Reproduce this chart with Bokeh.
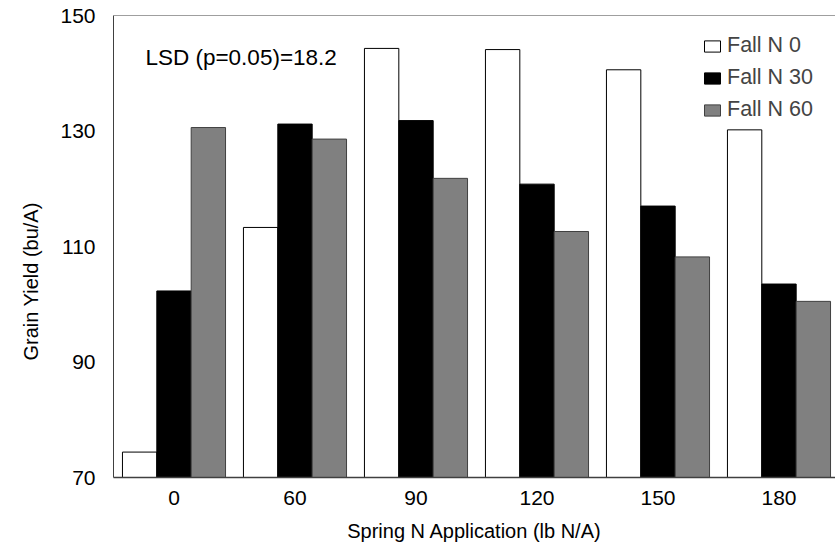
from bokeh.plotting import figure
from bokeh.models import (Range1d, FixedTicker, Span, Label, Legend, LegendItem,
                          ColumnDataSource, Title)
from bokeh.transform import dodge
from bokeh.embed import file_html
from bokeh.resources import INLINE

# ---- data ----
spring_n = ["0", "60", "90", "120", "150", "180"]
fall_n0 = [74.4, 113.3, 144.3, 144.1, 140.6, 130.2]
fall_n30 = [102.3, 131.2, 131.8, 120.8, 117.0, 103.5]
fall_n60 = [130.6, 128.6, 121.8, 112.6, 108.2, 100.5]
series_names = ["Fall N 0", "Fall N 30", "Fall N 60"]
y_ticks = [70, 90, 110, 130, 150]

FONT = "Liberation Sans"
idx = list(range(len(spring_n)))
src = ColumnDataSource(dict(idx=idx, n0=fall_n0, n30=fall_n30, n60=fall_n60))

p = figure(width=835, height=552, output_backend="svg", toolbar_location=None,
           x_range=Range1d(-0.5, 5.467), y_range=Range1d(y_ticks[0], y_ticks[-1]),
           min_border_left=113, min_border_top=15, min_border_right=0,
           min_border_bottom=75)
p.outline_line_color = None
p.xgrid.visible = False
p.ygrid.visible = False
p.background_fill_color = "white"
p.border_fill_color = "white"

bw = 0.284
r0 = p.vbar(x=dodge("idx", -bw, range=p.x_range), top="n0", bottom=y_ticks[0], width=bw,
            source=src, fill_color="white", line_color="#000000", line_width=1)
r1 = p.vbar(x=dodge("idx", 0, range=p.x_range), top="n30", bottom=y_ticks[0], width=bw,
            source=src, fill_color="#000000", line_color="#000000", line_width=1)
r2 = p.vbar(x=dodge("idx", bw, range=p.x_range), top="n60", bottom=y_ticks[0], width=bw,
            source=src, fill_color="#808080", line_color="#404040", line_width=1)

# top border line
p.add_layout(Span(location=y_ticks[-1], dimension="width", line_color="#404040", line_width=1))

# axes
for ax in (p.xaxis[0], p.yaxis[0]):
    ax.major_tick_line_color = None
    ax.minor_tick_line_color = None
    ax.major_tick_out = 0
    ax.major_tick_in = 0
    ax.minor_tick_out = 0
    ax.minor_tick_in = 0
    ax.major_label_text_font = FONT
    ax.major_label_text_font_size = "21px"
    ax.major_label_text_color = "black"
    ax.axis_label_text_font = FONT
    ax.axis_label_text_font_size = "20px"
    ax.axis_label_text_font_style = "normal"
    ax.axis_label_text_color = "black"

p.xaxis.ticker = FixedTicker(ticks=idx)
p.xaxis.major_label_overrides = {i: s for i, s in zip(idx, spring_n)}
p.xaxis.axis_label = "Spring N Application (lb N/A)"
p.xaxis.axis_line_color = "#404040"
p.xaxis.axis_line_width = 1.5
p.xaxis.major_label_standoff = 13
p.xaxis.axis_label_standoff = 12

p.yaxis.ticker = FixedTicker(ticks=y_ticks)
p.yaxis.axis_line_color = "#404040"
p.yaxis.axis_line_width = 1
p.yaxis.major_label_standoff = 18

# y title centred on the whole chart (as in the reference), outside the y axis
p.add_layout(Title(text="Grain Yield (bu/A)", align="left", offset=117,
                   vertical_align="top",
                   text_font=FONT, text_font_size="20px", text_font_style="normal",
                   text_color="black", standoff=27), "left")

legend = Legend(items=[LegendItem(label=series_names[0], renderers=[r0]),
                       LegendItem(label=series_names[1], renderers=[r1]),
                       LegendItem(label=series_names[2], renderers=[r2])],
                location=(589, 355), glyph_width=20, glyph_height=14,
                label_text_font=FONT, label_text_font_size="21.5px",
                label_standoff=5, spacing=7, padding=0, margin=0,
                border_line_color=None, background_fill_alpha=0)
p.add_layout(legend)

p.add_layout(Label(x=-0.236, y=142.7, text="LSD (p=0.05)=18.2", text_font=FONT,
                   text_font_size="22.5px", text_baseline="alphabetic", text_color="black"))

open("out.html", "w").write(file_html(p, INLINE))
